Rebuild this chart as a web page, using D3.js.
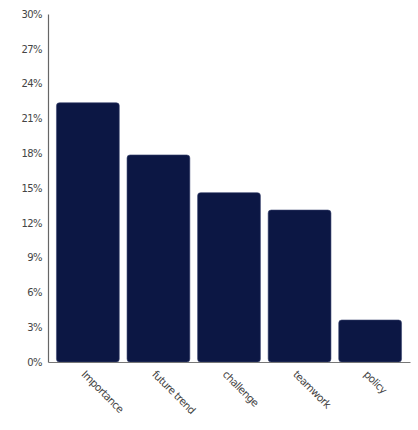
<!DOCTYPE html>
<html>
<head>
<meta charset="utf-8">
<script src="https://cdn.jsdelivr.net/npm/d3@7"></script>
<style>
html,body{margin:0;padding:0;background:#fff;}
svg{display:block;}
</style>
</head>
<body>
<div id="chart"></div>
<script>
const categories = ["Importance", "future trend", "challenge", "teamwork", "policy"];
const values = [22.35, 17.85, 14.6, 13.1, 3.62];
const yTicks = [0, 3, 6, 9, 12, 15, 18, 21, 24, 27, 30];

const W = 418, H = 430;
const margin = {left: 48, top: 14, right: 8, bottom: 68};

const svg = d3.select("#chart").append("svg").attr("width", W).attr("height", H);

const x = d3.scaleBand().domain(categories)
  .range([margin.left, W - margin.right]).paddingInner(0.11).paddingOuter(0.12);
const y = d3.scaleLinear().domain([0, 30]).range([H - margin.bottom, margin.top]);

svg.append("g").selectAll("rect").data(values).join("rect")
  .attr("x", (d, i) => x(categories[i]))
  .attr("y", d => y(d))
  .attr("width", x.bandwidth())
  .attr("height", d => y(0) - y(d))
  .attr("rx", 3).attr("ry", 3)
  .attr("fill", "#0c1744")
  .attr("stroke", "#3a4470").attr("stroke-width", 0.6);

const yAxis = svg.append("g").attr("transform", `translate(${margin.left},0)`)
  .call(d3.axisLeft(y).tickValues(yTicks).tickSize(0).tickPadding(6).tickFormat(d => d + "%"));
yAxis.select(".domain").attr("stroke", "#666").attr("stroke-width", 1.2);
yAxis.selectAll("text").attr("font-family", "DejaVu Sans, sans-serif").attr("font-size", 10).attr("fill", "#444").attr("letter-spacing", "-0.6");

const xAxis = svg.append("g").attr("transform", `translate(0,${y(0)})`)
  .call(d3.axisBottom(x).tickSize(0).tickPadding(0));
xAxis.select(".domain").attr("stroke", "#777").attr("stroke-width", 1.2);
xAxis.selectAll("text")
  .attr("font-family", "DejaVu Sans, sans-serif").attr("font-size", 10.5).attr("fill", "#444")
  .attr("letter-spacing", "-0.6")
  .attr("text-anchor", "start")
  .attr("dy", "0")
  .attr("transform", "translate(-7,13) rotate(45)");
</script>
</body>
</html>
